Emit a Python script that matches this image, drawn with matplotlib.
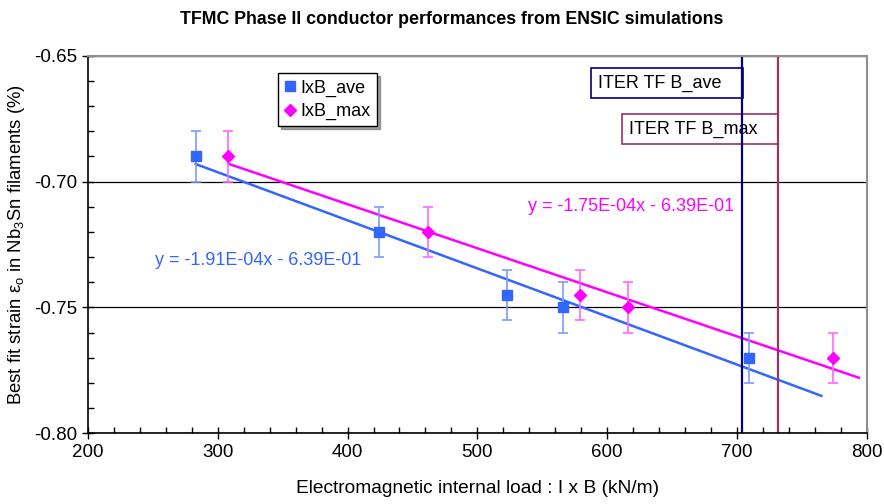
import matplotlib
matplotlib.use("Agg")
import matplotlib.pyplot as plt
import numpy as np
from matplotlib.ticker import MultipleLocator

plt.rcParams['font.family'] = ['Liberation Sans', 'DejaVu Sans']
plt.rcParams['mathtext.fontset'] = 'custom'
plt.rcParams['mathtext.rm'] = 'Liberation Sans'

# data
load_ave = [283, 424, 523, 566, 709]
load_max = [308, 462, 579, 616, 774]
strain = [-0.69, -0.72, -0.745, -0.75, -0.77]
strain_err = 0.01
# trend lines as printed on the chart
slopes = [-1.91e-4, -1.75e-4]
intercepts = [-0.639, -0.639]
trend_end = [765, 794]
iter_lines = [704, 731.5]
iter_names = ["ITER TF B_ave", "ITER TF B_max"]

blue = "#3366ff"
magenta = "#ff00ff"
iter_colors = ["#000080", "#993366"]

fig = plt.figure(figsize=(8.84, 5.04), dpi=100)
ax = fig.add_axes([0.0995, 0.1403, 0.8810, 0.7492])

series = [
    (load_ave, "IxB_ave", blue, "#7a9bff", "s", 7, (331, -0.7312)),
    (load_max, "IxB_max", magenta, "#ff66ff", "D", 6, (618.7, -0.7100)),
]
for i, (xs, name, col, ecol, mk, ms, txtpos) in enumerate(series):
    ax.errorbar(xs, strain, yerr=strain_err, fmt="none", ecolor=ecol,
                elinewidth=1.2, capsize=3.5, capthick=1.2, zorder=3)
    ax.plot(xs, strain, linestyle="none", marker=mk, ms=ms, color=col,
            label=name, zorder=4)
    a, b = slopes[i], intercepts[i]
    xt = np.array([xs[0], trend_end[i]])
    ax.plot(xt, a * xt + b, color=col, lw=1.8, zorder=2)
    ax.text(txtpos[0], txtpos[1], "y = %.2fE-04x - %.2fE-01" % (a * 1e4, -b * 10),
            color=col, fontsize=13, ha="center", va="center")

for xv, name, col, ty in zip(iter_lines, iter_names, iter_colors, [-0.6610, -0.6791]):
    ax.axvline(xv, color=col, lw=1.6, zorder=2)
    ax.text(xv - 4.5, ty, name + "   ", fontsize=13, ha="right", va="center",
            bbox=dict(boxstyle="square,pad=0.35", fc="white", ec=col, lw=1.2),
            zorder=1.5)

ax.set_xlim(200, 800)
ax.set_ylim(-0.80, -0.65)
ax.xaxis.set_major_locator(MultipleLocator(100))
ax.xaxis.set_minor_locator(MultipleLocator(20))
ax.yaxis.set_major_locator(MultipleLocator(0.05))
ax.yaxis.set_minor_locator(MultipleLocator(0.01))
ax.yaxis.set_major_formatter(plt.FormatStrFormatter("%.2f"))
ax.tick_params(which="major", direction="inout", length=8, width=1, labelsize=13.5)
ax.tick_params(which="minor", direction="in", length=4, width=1)
ax.tick_params(axis="y", which="major", pad=4)
ax.yaxis.grid(True, which="major", color="black", lw=0.9)
ax.set_axisbelow(True)

for s in ["top", "right"]:
    ax.spines[s].set_color("#909090")
    ax.spines[s].set_linewidth(1.5)
for s in ["left", "bottom"]:
    ax.spines[s].set_linewidth(1.2)

ax.set_xlabel("Electromagnetic internal load : I x B (kN/m)", fontsize=13.8, labelpad=14)
ax.set_ylabel("Best fit strain ε$\\mathregular{_o}$ in Nb$\\mathregular{_3}$Sn filaments (%)",
              fontsize=13.3, labelpad=5)
fig.text(0.511, 0.962, "TFMC Phase II conductor performances from ENSIC simulations",
         fontsize=12.8, fontweight="bold", ha="center", va="center")

leg = ax.legend(loc="upper left", bbox_to_anchor=(0.2443, 0.954), fontsize=13,
                frameon=True, fancybox=False, shadow=True, edgecolor="black",
                handlelength=0.6, handletextpad=0.3, borderpad=0.35,
                labelspacing=0.35, borderaxespad=0)
leg.get_frame().set_linewidth(1)

fig.savefig("out.png", dpi=100)
